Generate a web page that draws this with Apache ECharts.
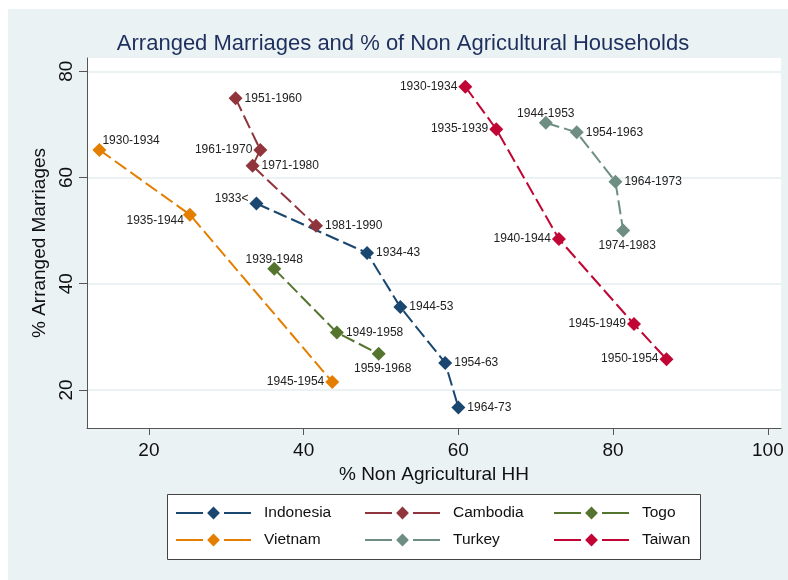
<!DOCTYPE html>
<html>
<head>
<meta charset="utf-8">
<title>Arranged Marriages</title>
<script src="https://cdn.jsdelivr.net/npm/echarts@6/dist/echarts.min.js"></script>
<style>
  body { margin: 0; background: #fff; }
  .wrap { position: relative; width: 788px; height: 580px; background: #fff; }
  .bg { position: absolute; left: 8px; top: 9px; right: 0; bottom: 0; background: #eaf2f3; }
  #chart { position: absolute; left: 0; top: 0; width: 788px; height: 580px; }
</style>
</head>
<body>
<div class="wrap">
  <div class="bg"></div>
  <div id="chart"></div>
</div>
<script>
// values (x = % non agricultural HH, y = % arranged marriages)
const indonesiaX = [33.9, 48.2, 52.5, 58.3, 60.0]
const indonesiaY = [55.1, 45.8, 35.6, 25.1, 16.7]
const indonesiaLabels = ['1933<', '1934-43', '1944-53', '1954-63', '1964-73']

const cambodiaX = [31.2, 34.4, 33.4, 41.6]
const cambodiaY = [74.9, 65.2, 62.2, 50.9]
const cambodiaLabels = ['1951-1960', '1961-1970', '1971-1980', '1981-1990']

const togoX = [36.2, 44.3, 49.7]
const togoY = [42.8, 30.8, 26.8]
const togoLabels = ['1939-1948', '1949-1958', '1959-1968']

const vietnamX = [13.6, 25.3, 43.7]
const vietnamY = [65.2, 53.0, 21.5]
const vietnamLabels = ['1930-1934', '1935-1944', '1945-1954']

const turkeyX = [71.3, 75.3, 80.3, 81.3]
const turkeyY = [70.3, 68.5, 59.2, 50.0]
const turkeyLabels = ['1944-1953', '1954-1963', '1964-1973', '1974-1983']

const taiwanX = [60.9, 64.9, 73.0, 82.7, 86.9]
const taiwanY = [77.1, 69.1, 48.4, 32.4, 25.8]
const taiwanLabels = ['1930-1934', '1935-1939', '1940-1944', '1945-1949', '1950-1954']

const xTicks = [20, 40, 60, 80, 100]
const yTicks = [20, 40, 60, 80]

const FONT = '"Liberation Sans", Arial, sans-serif'

// where each marker label sits (like stata clock positions)
const labelPlace = {
  Indonesia: ['tl', 'r', 'r', 'r', 'r'],
  Cambodia: ['r', 'l', 'r', 'r'],
  Togo: ['t', 'r', 'b'],
  Vietnam: ['tr', 'bl', 'l'],
  Turkey: ['t', 'r', 'r', 'b'],
  Taiwan: ['l', 'l', 'l', 'l', 'l']
}
const placeStyle = {
  r: { position: 'right', distance: 2 },
  l: { position: 'left', distance: 1 },
  t: { position: 'top', distance: -4 },
  b: { position: 'bottom', distance: 2, offset: [4, 0] },
  tr: { position: 'right', distance: 0, offset: [-4, -9] },
  bl: { position: 'left', distance: -1, offset: [0, 6] },
  tl: { position: 'left', distance: 1, offset: [0, -5] }
}

const colors = {
  Indonesia: '#1a476f',
  Cambodia: '#90353b',
  Togo: '#55752f',
  Vietnam: '#e37e00',
  Turkey: '#6e8e84',
  Taiwan: '#c10534'
}

function makeSeries(name, xs, ys, labels){
  const places = labelPlace[name]
  return {
    name: name,
    type: 'line',
    symbol: 'diamond',
    symbolSize: 14,
    color: colors[name],
    lineStyle: { width: 2, type: [14, 5] },
    z: 3,
    data: xs.map((x, i) => {
      return {
        value: [x, ys[i]],
        label: Object.assign({ show: true, formatter: labels[i] }, placeStyle[places[i]])
      }
    }),
    label: { fontSize: 12, color: '#222', fontFamily: FONT }
  }
}

const chart = echarts.init(document.getElementById('chart'))
const option = {
  backgroundColor: 'transparent',
  animation: false,
  textStyle: { fontFamily: FONT },
  grid: {
    left: 87, right: 7, top: 58, bottom: 152,
    show: true, backgroundColor: '#fff', borderWidth: 0
  },
  graphic: [
    {
      type: 'text', x: 403, y: 33,
      style: {
        text: 'Arranged Marriages and % of Non Agricultural Households',
        fill: '#1e2f5e', font: '22px ' + FONT,
        align: 'center', verticalAlign: 'top'
      }
    },
    {
      type: 'rect', z: 0,
      shape: { x: 167.5, y: 494.5, width: 533, height: 65 },
      style: { fill: '#fff', stroke: '#444', lineWidth: 1 }
    }
  ],
  legend: {
    left: 175, top: 505, width: 560,
    padding: 0, itemGap: 11,
    itemWidth: 75, itemHeight: 16,
    lineStyle: { type: [27, 21, 27], width: 2 },
    textStyle: { fontSize: 15.5, color: '#111', padding: [0, 0, 0, 8], width: 89, lineHeight: 16 },
    data: ['Indonesia', 'Cambodia', 'Togo', 'Vietnam', 'Turkey', 'Taiwan']
  },
  xAxis: {
    type: 'value', min: 12, max: 101.7,
    name: '% Non Agricultural HH', nameLocation: 'middle', nameGap: 34,
    nameTextStyle: { fontSize: 19, color: '#111' },
    axisLine: { show: true, onZero: false, lineStyle: { color: '#555', width: 1 } },
    axisTick: { show: true, length: 7, customValues: xTicks, lineStyle: { color: '#555' } },
    axisLabel: { customValues: xTicks, fontSize: 19, color: '#111', margin: 13 },
    splitLine: { show: false }
  },
  yAxis: {
    type: 'value', min: 12.84, max: 82.5,
    name: '% Arranged Marriages', nameLocation: 'middle', nameGap: 32, nameRotate: 90,
    nameTextStyle: { fontSize: 19, color: '#111' },
    axisLine: { show: true, onZero: false, lineStyle: { color: '#555', width: 1 } },
    axisTick: { show: true, length: 8, customValues: yTicks, lineStyle: { color: '#555' } },
    axisLabel: { customValues: yTicks, fontSize: 19, color: '#111', rotate: 90, margin: 11 },
    splitLine: { show: true, lineStyle: { color: '#eaf2f3', width: 2 } }
  },
  series: [
    makeSeries('Indonesia', indonesiaX, indonesiaY, indonesiaLabels),
    makeSeries('Cambodia', cambodiaX, cambodiaY, cambodiaLabels),
    makeSeries('Togo', togoX, togoY, togoLabels),
    makeSeries('Vietnam', vietnamX, vietnamY, vietnamLabels),
    makeSeries('Turkey', turkeyX, turkeyY, turkeyLabels),
    makeSeries('Taiwan', taiwanX, taiwanY, taiwanLabels)
  ]
}
chart.setOption(option)
</script>
</body>
</html>
